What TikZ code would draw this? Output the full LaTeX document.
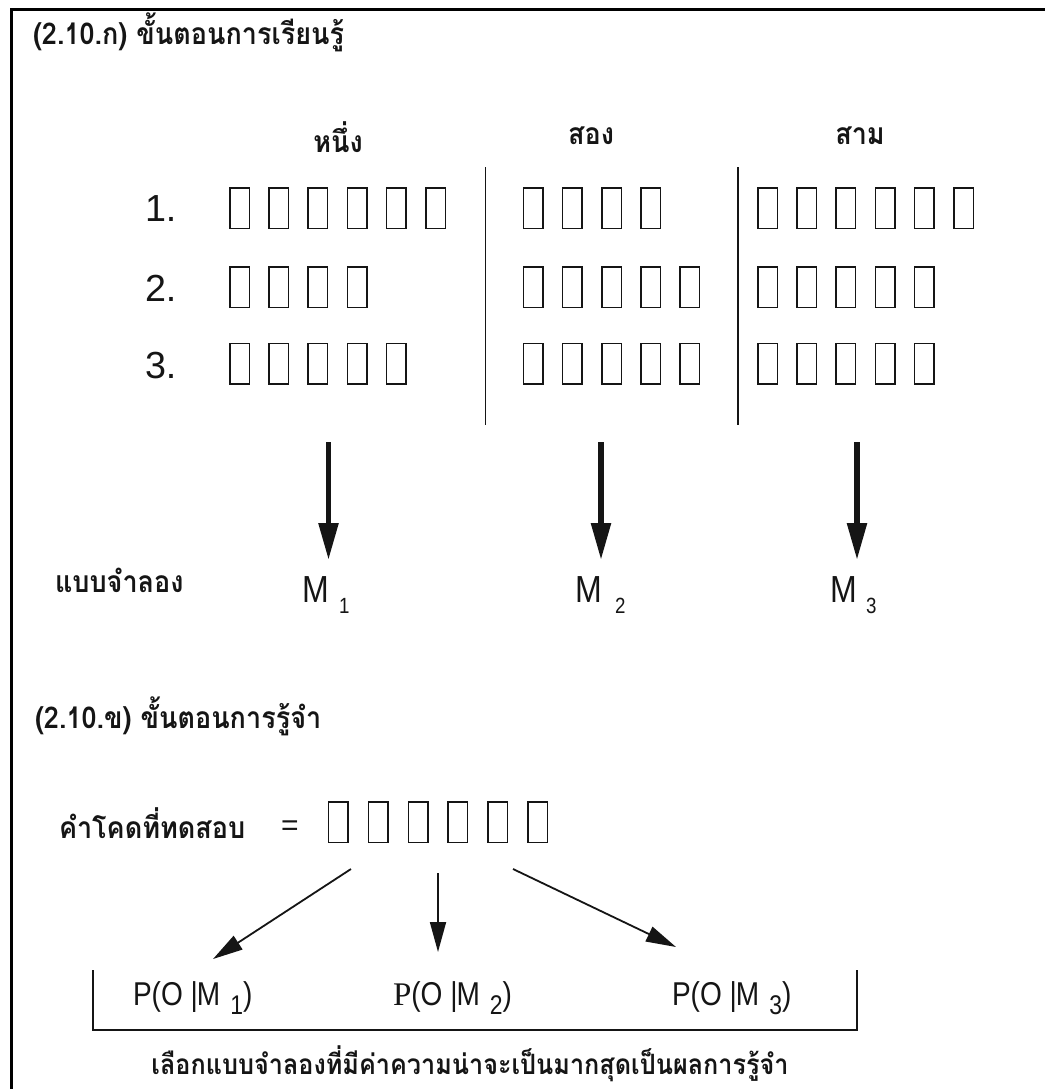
\documentclass[tikz,border=0pt]{standalone}
\usepackage{fontspec}
\setmainfont{Liberation Sans}
\newfontfamily\thaifont[Script=Thai,FakeStretch=0.9]{Loma}
\newfontfamily\narrowsans[FakeStretch=0.85]{Liberation Sans}
\newfontfamily\serifp{Liberation Serif}
\usetikzlibrary{arrows.meta}
\definecolor{ink}{HTML}{151515}
\begin{document}
\begin{tikzpicture}[x=1pt,y=-1pt,
  every node/.style={inner sep=0pt,outer sep=0pt,text=ink},
  tofu/.style={draw=ink,line width=1.5pt,minimum width=19.5pt,minimum height=40.5pt,inner sep=0pt},
  bigarrow/.style={draw=ink,line width=5.5pt,-{Triangle[length=37pt,width=19pt]}},
  thinarrow/.style={draw=ink,line width=1.8pt,-{Triangle[length=30pt,width=16pt]}},
  thaib/.style={font=\thaifont\bfseries\fontsize{30}{34}\selectfont},
  num/.style={font=\fontsize{37.7}{40}\selectfont},
  mlab/.style={font=\narrowsans\fontsize{37.7}{40}\selectfont},
  msub/.style={font=\narrowsans\fontsize{22}{24}\selectfont},
  plab/.style={font=\narrowsans\fontsize{33}{36}\selectfont},
  divider/.style={draw=ink,line width=1.5pt}
]
\useasboundingbox[fill=white] (0,0) rectangle (1045,1089);
% frame (left and top)
\draw[line width=3pt,draw=black] (11,1089) -- (11,9.5) -- (1045,9.5);

% section titles
\node[thaib,anchor=base west] (title1) at (33,45) {(2.10.ก) ขั้นตอนการเรียนรู้};
\node[thaib,anchor=base west] (title2) at (35,728) {(2.10.ข) ขั้นตอนการรู้จำ};

% column headers
\node[thaib,anchor=base] (h1) at (338,152) {หนึ่ง};
\node[thaib,anchor=base] (h2) at (591,145) {สอง};
\node[thaib,anchor=base] (h3) at (860,145) {สาม};

% row numbers
\node[num,anchor=base west] (n1) at (145,221.7) {1.};
\node[num,anchor=base west] (n2) at (145,301.7) {2.};
\node[num,anchor=base west] (n3) at (145,378) {3.};

% boxes column 1
\foreach \k in {1,...,6} \node[tofu] (b-1-1-\k) at ({239.5+39.2*(\k-1)},208) {};
\foreach \k in {1,...,4} \node[tofu] (b-1-2-\k) at ({239.5+39.2*(\k-1)},287) {};
\foreach \k in {1,...,5} \node[tofu] (b-1-3-\k) at ({239.5+39.2*(\k-1)},363.5) {};
% boxes column 2
\foreach \k in {1,...,4} \node[tofu] (b-2-1-\k) at ({533.1+39.2*(\k-1)},208) {};
\foreach \k in {1,...,5} \node[tofu] (b-2-2-\k) at ({533.1+39.2*(\k-1)},287) {};
\foreach \k in {1,...,5} \node[tofu] (b-2-3-\k) at ({533.1+39.2*(\k-1)},363.5) {};
% boxes column 3
\foreach \k in {1,...,6} \node[tofu] (b-3-1-\k) at ({767.5+39.2*(\k-1)},208) {};
\foreach \k in {1,...,5} \node[tofu] (b-3-2-\k) at ({767.5+39.2*(\k-1)},287) {};
\foreach \k in {1,...,5} \node[tofu] (b-3-3-\k) at ({767.5+39.2*(\k-1)},363.5) {};

% dividers
\coordinate (d1t) at (485.5,167); \coordinate (d1b) at (485.5,425);
\coordinate (d2t) at (738,167);   \coordinate (d2b) at (738,425);
\draw[divider] (d1t) -- (d1b);
\draw[divider] (d2t) -- (d2b);

% model labels
\node[thaib,anchor=base west] (model) at (55,592) {แบบจำลอง};
\node[mlab,anchor=base west] (m1) at (302,602) {M};
\node[msub,anchor=base west] (m1s) at (339,613) {1};
\node[mlab,anchor=base west] (m2) at (575,602) {M};
\node[msub,anchor=base west] (m2s) at (615,613) {2};
\node[mlab,anchor=base west] (m3) at (830,602) {M};
\node[msub,anchor=base west] (m3s) at (866,613) {3};

% thick arrows
\coordinate (a1s) at (328.5,442); \coordinate (a1e) at (328.5,560);
\coordinate (a2s) at (601,442);   \coordinate (a2e) at (601,560);
\coordinate (a3s) at (857,442);   \coordinate (a3e) at (857,560);
\draw[bigarrow] (a1s) -- (a1e);
\draw[bigarrow] (a2s) -- (a2e);
\draw[bigarrow] (a3s) -- (a3e);

% test utterance
\node[thaib,anchor=base west] (test) at (59,838) {คำโคดที่ทดสอบ};
\node[anchor=center,font=\fontsize{30}{32}\selectfont] (eq) at (290,828.5) {=};
\foreach \k in {1,...,6} \node[tofu] (t-\k) at ({338.2+39.9*(\k-1)},822) {};

% thin arrows
\coordinate (s1) at (351,869); \coordinate (e1) at (213,959);
\coordinate (s2) at (438,873); \coordinate (e2) at (438,952);
\coordinate (s3) at (513,869); \coordinate (e3) at (676,947);
\draw[thinarrow] (s1) -- (e1);
\draw[thinarrow] (s2) -- (e2);
\draw[thinarrow] (s3) -- (e3);

% probability labels
\node[plab,anchor=base west] (p1) at (133,1005) {P(O~|\kern-1pt M\hspace{10pt}\raisebox{-9pt}{\fontsize{27}{28}\selectfont 1})};
\node[plab,anchor=base west] (p2) at (393,1005) {{\serifp P}(O~|\kern-1pt M\hspace{10pt}\raisebox{-9pt}{\fontsize{27}{28}\selectfont 2})};
\node[plab,anchor=base west] (p3) at (672,1005) {P(O~|\kern-1pt M\hspace{10pt}\raisebox{-9pt}{\fontsize{27}{28}\selectfont 3})};

% bracket
\coordinate (bl) at (93,970); \coordinate (br) at (857,970);
\draw[draw=ink,line width=2pt] (bl) -- (93,1030) -- (857,1030) -- (br);

% conclusion
\node[thaib,anchor=base,font=\thaifont\bfseries\fontsize{28}{32}\selectfont] (concl) at (470,1074) {เลือกแบบจำลองที่มีค่าความน่าจะเป็นมากสุดเป็นผลการรู้จำ};
\end{tikzpicture}
\end{document}
